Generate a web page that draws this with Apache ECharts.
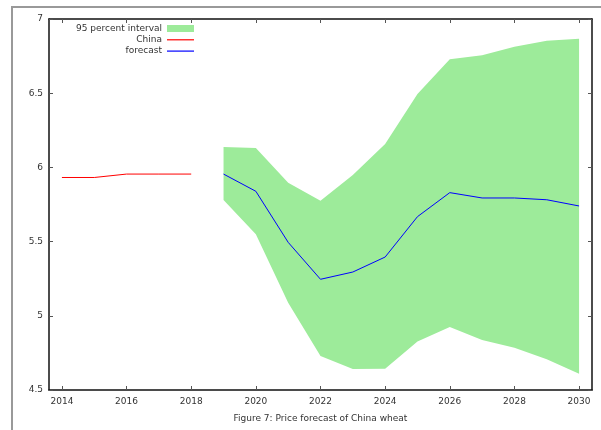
<!DOCTYPE html>
<html>
<head>
<meta charset="utf-8">
<title>Price forecast of China wheat</title>
<script src="https://cdn.jsdelivr.net/npm/echarts@6/dist/echarts.min.js"></script>
<style>
  html, body { margin: 0; padding: 0; background: #fff; }
  #chart { width: 601px; height: 430px; }
</style>
</head>
<body>
<div id="chart"></div>
<script>
// Historical prices (2014-2018)
const historyYears = [2014, 2015, 2016, 2017, 2018];
const chinaPrice = [5.932, 5.932, 5.955, 5.955, 5.955];

// Forecast with 95 percent interval (2019-2030)
const forecastYears = [2019, 2020, 2021, 2022, 2023, 2024, 2025, 2026, 2027, 2028, 2029, 2030];
const forecastPrice = [5.955, 5.839, 5.495, 5.246, 5.295, 5.396, 5.668, 5.830, 5.794, 5.794, 5.782, 5.740];
const intervalLow  = [5.780, 5.549, 5.088, 4.729, 4.641, 4.644, 4.826, 4.925, 4.837, 4.785, 4.707, 4.610];
const intervalHigh = [6.137, 6.131, 5.897, 5.775, 5.949, 6.158, 6.495, 6.728, 6.755, 6.813, 6.854, 6.867];

const xTickValues = [2014, 2016, 2018, 2020, 2022, 2024, 2026, 2028, 2030];

const FONT = '"DejaVu Sans", Verdana, sans-serif';
const TEXT = '#333';
const BAND = '#9deb9a';
const RED = '#ff0000';
const BLUE = '#0000ff';

// Thin horizontal bar used as the legend key for line series
const LINE_ICON = 'path://M0,0H27V1.2H0Z';

const pairs = (xs, ys) => xs.map((x, i) => [x, ys[i]]);
const bandRows = forecastYears.map((y, i) => [y, intervalLow[i], intervalHigh[i]]);

const frameAxisLine = { show: true, onZero: false, lineStyle: { color: '#111', width: 1.5 } };
const innerTick = { show: true, inside: true, length: 4, lineStyle: { color: '#555', width: 1 } };

// The interval is drawn as one closed polygon: upper edge left to right,
// then lower edge right to left.
function renderBand(params, api) {
  if (params.dataIndex !== 0) return null;
  const upper = bandRows.map(r => api.coord([r[0], r[2]]));
  const lower = bandRows.map(r => api.coord([r[0], r[1]])).reverse();
  return {
    type: 'polygon',
    shape: { points: upper.concat(lower) },
    style: { fill: BAND, stroke: null }
  };
}

const chart = echarts.init(document.getElementById('chart'), null, { renderer: 'canvas' });

chart.setOption({
  animation: false,
  backgroundColor: '#fff',
  textStyle: { fontFamily: FONT },
  grid: { left: 49, right: 9, top: 19, bottom: 40 },
  legend: {
    orient: 'vertical',
    align: 'right',
    right: 407,
    top: 23,
    padding: 0,
    itemWidth: 27,
    itemHeight: 7,
    itemGap: 0.3,
    symbolKeepAspect: true,
    selectedMode: false,
    textStyle: { color: TEXT, fontSize: 9, fontFamily: FONT, lineHeight: 11 },
    data: [
      { name: '95 percent interval', icon: 'rect', itemStyle: { color: BAND, borderWidth: 0 } },
      { name: 'China', icon: LINE_ICON, itemStyle: { color: RED, borderWidth: 0 } },
      { name: 'forecast', icon: LINE_ICON, itemStyle: { color: BLUE, borderWidth: 0 } }
    ]
  },
  xAxis: [
    {
      type: 'value',
      min: 2013.6,
      max: 2030.4,
      position: 'bottom',
      axisLine: frameAxisLine,
      axisTick: Object.assign({ customValues: xTickValues }, innerTick),
      axisLabel: {
        customValues: xTickValues,
        formatter: v => String(v),
        color: TEXT,
        fontSize: 9,
        fontFamily: FONT,
        margin: 7
      },
      splitLine: { show: false }
    },
    {
      type: 'value',
      min: 2013.6,
      max: 2030.4,
      position: 'top',
      axisLine: frameAxisLine,
      axisTick: Object.assign({ customValues: xTickValues }, innerTick),
      axisLabel: { show: false },
      splitLine: { show: false }
    }
  ],
  yAxis: [
    {
      type: 'value',
      min: 4.5,
      max: 7,
      interval: 0.5,
      position: 'left',
      axisLine: frameAxisLine,
      axisTick: innerTick,
      axisLabel: { color: TEXT, fontSize: 9, fontFamily: FONT, margin: 6 },
      splitLine: { show: false }
    },
    {
      type: 'value',
      min: 4.5,
      max: 7,
      interval: 0.5,
      position: 'right',
      axisLine: frameAxisLine,
      axisTick: innerTick,
      axisLabel: { show: false },
      splitLine: { show: false }
    }
  ],
  series: [
    {
      name: '95 percent interval',
      type: 'custom',
      color: BAND,
      data: bandRows,
      encode: { x: 0, y: [1, 2] },
      renderItem: renderBand,
      silent: true,
      z: 1
    },
    {
      name: 'China',
      type: 'line',
      color: RED,
      data: pairs(historyYears, chinaPrice),
      symbol: 'none',
      lineStyle: { color: RED, width: 1 },
      z: 3
    },
    {
      name: 'forecast',
      type: 'line',
      color: BLUE,
      data: pairs(forecastYears, forecastPrice),
      symbol: 'none',
      lineStyle: { color: BLUE, width: 1 },
      z: 3
    }
  ],
  graphic: [
    {
      type: 'line',
      shape: { x1: 12, y1: 7, x2: 601, y2: 7 },
      style: { stroke: '#999', lineWidth: 2 },
      silent: true
    },
    {
      type: 'line',
      shape: { x1: 12, y1: 6, x2: 12, y2: 430 },
      style: { stroke: '#999', lineWidth: 2 },
      silent: true
    },
    {
      type: 'text',
      x: 320.4,
      y: 418.5,
      style: {
        text: 'Figure 7: Price forecast of China wheat',
        fill: TEXT,
        font: '9px ' + FONT,
        textAlign: 'center',
        textVerticalAlign: 'middle'
      },
      silent: true
    }
  ]
});
</script>
</body>
</html>
